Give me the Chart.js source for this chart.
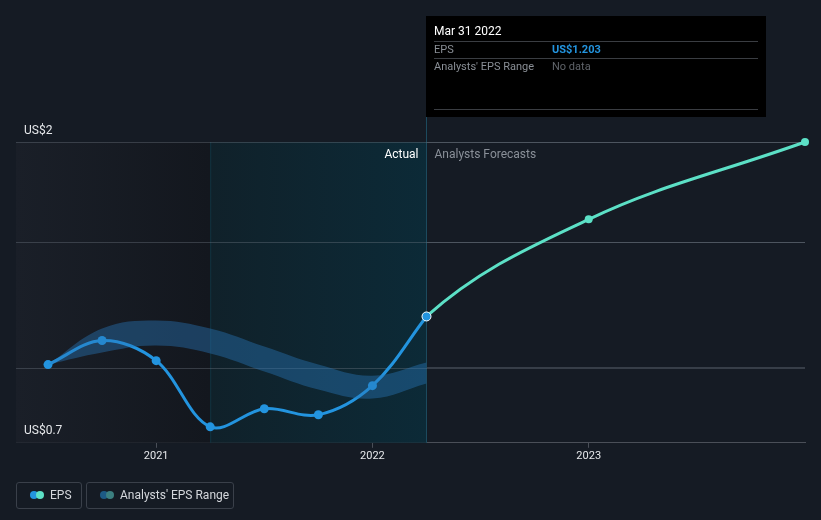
<!DOCTYPE html>
<html>
<head>
<meta charset="utf-8">
<script src="https://cdn.jsdelivr.net/npm/chart.js@4.4.0/dist/chart.umd.min.js"></script>
<style>
  body { margin: 0; background: #151b24; font-family: Roboto, "Open Sans", sans-serif; }
  #wrap { position: relative; width: 821px; height: 520px; }
  .leg { position: absolute; top: 482px; height: 27px; border: 1px solid #3a404a; border-radius: 3px;
         color: #d4d7dc; font-size: 12px; line-height: 25px; box-sizing: border-box; }
  .dot { position: absolute; top: 8px; width: 8px; height: 8px; border-radius: 50%; }
</style>
</head>
<body>
<div id="wrap">
  <canvas id="mycanvas" width="821" height="520"></canvas>
  <div class="leg" style="left:16px;width:66px;">
    <span class="dot" style="left:13px;background:#2394df"></span>
    <span class="dot" style="left:19px;background:#5ce0c6"></span>
    <span style="position:absolute;left:33px;">EPS</span>
  </div>
  <div class="leg" style="left:86px;width:148px;">
    <span class="dot" style="left:13px;background:#1d5a85"></span>
    <span class="dot" style="left:19px;background:#3b7f80"></span>
    <span style="position:absolute;left:33px;">Analysts' EPS Range</span>
  </div>
</div>
<script>
// quarters as decimal years
var actualX = [2020.5, 2020.75, 2021.0, 2021.25, 2021.5, 2021.75, 2022.0, 2022.25];
var actualEps = [1.038, 1.142, 1.055, 0.769, 0.847, 0.821, 0.947, 1.246];
var forecastX = [2022.25, 2023.0, 2024.0];
var forecastEps = [1.246, 1.666, 2.0];
var rangeHigh = [1.038, 1.194, 1.229, 1.194, 1.116, 1.038, 0.990, 1.047];
var rangeLow = [1.038, 1.090, 1.120, 1.086, 1.008, 0.930, 0.891, 0.956];
var yearTicks = [2021, 2022, 2023];
var gridValues = [0.7, 1.025, 1.567, 2.0];
var yLabels = ["US$2", "US$0.7"];

function pts(xs, ys) {
	var out = [];
	for (var i in xs) out.push({x: xs[i], y: ys[i]});
	return out;
}

var backdrop = {
	id: 'backdrop',
	beforeDatasetsDraw: function(chart) {
		var c = chart.ctx, a = chart.chartArea, xs = chart.scales.x;
		var x1 = xs.getPixelForValue(2021.25), x2 = xs.getPixelForValue(2022.25);
		c.save();
		var g1 = c.createLinearGradient(a.left, 0, x1, 0);
		g1.addColorStop(0, '#1a1f28');
		g1.addColorStop(1, '#13171e');
		c.fillStyle = g1;
		c.fillRect(a.left, a.top, x1 - a.left, a.bottom - a.top);
		var g2 = c.createLinearGradient(x1, 0, x2, 0);
		g2.addColorStop(0, '#10212a');
		g2.addColorStop(1, '#0c2a37');
		c.fillStyle = g2;
		c.fillRect(x1, a.top, x2 - x1, a.bottom - a.top);
		c.fillStyle = '#123340';
		c.fillRect(x1, a.top, 1, a.bottom - a.top);
		c.fillStyle = '#1c4a5e';
		c.fillRect(x2 - 0.5, 117, 1, a.bottom - 117);
		// redraw the grid lines over the shading
		var ys = chart.scales.y;
		c.fillStyle = 'rgba(120,128,140,0.35)';
		for (var i in gridValues) {
			var gy = Math.round(ys.getPixelForValue(gridValues[i]));
			if (i > 0) c.fillRect(a.left, gy, a.right - a.left, 1);
		}
		c.font = '12px Roboto, sans-serif';
		c.textBaseline = 'middle';
		c.textAlign = 'right';
		c.fillStyle = '#ffffff';
		c.fillText('Actual', x2 - 8, 155);
		c.textAlign = 'left';
		c.fillStyle = '#8a9099';
		c.fillText('Analysts Forecasts', x2 + 8, 155);
		c.fillStyle = '#e6e8eb';
		c.fillText(yLabels[0], 24, 131);
		c.fillText(yLabels[1], 24, 431);
		c.restore();
	},
	beforeDatasetDraw: function(chart, args) {
		// forecast curve: steeper start, like the original smoothing
		if (args.index !== 3) return;
		var line = args.meta.dataset, p = args.meta.data;
		line.updateControlPoints(chart.chartArea);
		var s0 = (p[1].y - p[0].y) / (p[1].x - p[0].x);
		var s1 = (p[2].y - p[1].y) / (p[2].x - p[1].x);
		var t0 = s0 * 1.5, t1 = (s0 + s1) / 2;
		var h0 = (p[1].x - p[0].x) / 3, h1 = (p[2].x - p[1].x) / 3;
		p[0].cp2x = p[0].x + h0; p[0].cp2y = p[0].y + t0 * h0;
		p[1].cp1x = p[1].x - h0; p[1].cp1y = p[1].y - t1 * h0;
		p[1].cp2x = p[1].x + h1; p[1].cp2y = p[1].y + t1 * h1;
	},
	afterDraw: function(chart) {
		var c = chart.ctx;
		c.save();
		c.fillStyle = '#000000';
		c.fillRect(426, 16, 340, 101);
		c.fillStyle = '#3a3d42';
		c.fillRect(434, 41, 324, 1);
		c.fillRect(434, 58, 324, 1);
		c.fillRect(434, 109, 324, 1);
		c.textBaseline = 'middle';
		c.textAlign = 'left';
		c.font = '12px Roboto, sans-serif';
		c.fillStyle = '#ffffff';
		c.fillText('Mar 31 2022', 434, 32);
		c.font = '11px Roboto, sans-serif';
		c.fillStyle = '#8a8f96';
		c.fillText('EPS', 434, 50);
		c.fillText("Analysts' EPS Range", 434, 67);
		c.fillStyle = '#5f6369';
		c.fillText('No data', 552, 67);
		c.font = 'bold 11px Roboto, sans-serif';
		c.fillStyle = '#2394df';
		c.fillText('US$1.203', 552, 50);
		c.restore();
	}
};

var chartdata = {
	datasets: [
		{
			label: 'High',
			data: pts(actualX, rangeHigh),
			borderWidth: 0,
			pointRadius: 0,
			tension: 0.4,
			fill: false
		},
		{
			label: 'Low',
			data: pts(actualX, rangeLow),
			borderWidth: 0,
			pointRadius: 0,
			tension: 0.4,
			backgroundColor: 'rgba(40,120,185,0.42)',
			fill: '-1'
		},
		{
			label: 'EPS',
			data: pts(actualX, actualEps),
			borderColor: '#2394df',
			borderWidth: 3,
			tension: 0.35,
			pointRadius: [4.5, 4.5, 4.5, 4.5, 4.5, 4.5, 4.5, 4.5],
			pointBackgroundColor: '#2394df',
			pointBorderColor: ['#2394df', '#2394df', '#2394df', '#2394df', '#2394df', '#2394df', '#2394df', '#ffffff'],
			pointBorderWidth: [0, 0, 0, 0, 0, 0, 0, 1],
			fill: false
		},
		{
			label: 'Forecast',
			data: pts(forecastX, forecastEps),
			borderColor: '#5ce0c6',
			borderWidth: 3,
			tension: 0.4,
			pointRadius: [0, 4, 4],
			pointBackgroundColor: '#5ce0c6',
			pointBorderWidth: 0,
			fill: false,
			clip: 8
		}
	]
};

var ctx = document.getElementById('mycanvas');
var chart = new Chart(ctx, {
	type: 'line',
	data: chartdata,
	plugins: [backdrop],
	options: {
		responsive: false,
		animation: false,
		layout: { padding: { left: 16, right: 16, top: 142, bottom: 55 } },
		plugins: { legend: { display: false }, tooltip: { enabled: false } },
		scales: {
			x: {
				type: 'linear',
				min: 2020.352,
				max: 2024.0,
				afterBuildTicks: function(scale) {
					scale.ticks = yearTicks.map(function(v) { return {value: v}; });
				},
				ticks: {
					color: '#e6e8eb',
					font: { size: 11, family: 'Roboto' },
					padding: 2,
					maxRotation: 0,
					callback: function(v) { return String(v); }
				},
				grid: { drawOnChartArea: false, tickLength: 5, color: '#4a4f58' },
				border: { color: '#4a4f58', width: 1 }
			},
			y: {
				min: 0.7,
				max: 2.0,
				afterBuildTicks: function(scale) {
					scale.ticks = gridValues.map(function(v) { return {value: v}; });
				},
				ticks: { display: false },
				grid: { color: 'rgba(120,128,140,0.35)', drawTicks: false },
				border: { display: false }
			}
		}
	}
});
</script>
</body>
</html>
